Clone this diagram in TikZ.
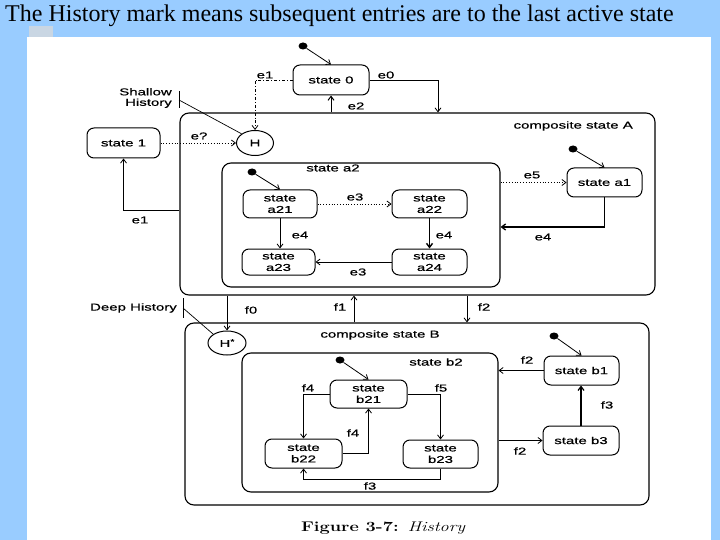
\documentclass[tikz,border=0pt]{standalone}
\usepackage{fontspec}
\usepackage{graphicx}
\usetikzlibrary{arrows.meta,shapes.geometric,calc}
\newfontfamily\dfont[FakeStretch=1.5,FakeBold=0.6]{Liberation Sans}
\newfontfamily\tfont{Liberation Serif}
\definecolor{bgblue}{HTML}{99CCFF}
\definecolor{tabgray}{HTML}{C9D6E3}
\begin{document}
\begin{tikzpicture}[x=1pt,y=-1pt,
 st/.style={draw, rounded corners=7pt, line width=1pt, font=\dfont\fontsize{10}{11.5}\selectfont, align=center, inner sep=0pt},
 comp/.style={draw, rounded corners=9pt, line width=1.1pt, inner sep=0pt},
 hist/.style={draw, ellipse, line width=1pt, inner sep=0pt, font=\dfont\fontsize{10}{11}\selectfont},
 lbl/.style={font=\dfont\fontsize{10}{11}\selectfont, inner sep=1pt},
 dot/.style={fill, ellipse, minimum width=9pt, minimum height=7pt, inner sep=0pt},
 ar/.style={-{Straight Barb[length=4pt,width=6pt]}, line width=0.8pt},
]
\useasboundingbox (0,0) rectangle (720,540);
\fill[bgblue] (0,0) rectangle (720,540);
\fill[tabgray] (29,26) rectangle (53,37);
\fill[white] (27,37) rectangle (711,540);
\node[anchor=base west, inner sep=0pt, font=\tfont\fontsize{24}{26}\selectfont] (title) at (5,22) {The History mark means subsequent entries are to the last active state};

% coordinates for bends
\coordinate (xe0) at (438,0);
\coordinate (ye1) at (0,210);
\coordinate (ye4) at (0,227);
\coordinate (xf1) at (354,0);
\coordinate (xf2) at (467,0);
\coordinate (yf3) at (0,479);

% composite states
\node[comp, minimum width=475pt, minimum height=182pt] (A) at (417.5,204) {};
\node[comp, minimum width=278pt, minimum height=124pt] (a2) at (361,225) {};
\node[comp, minimum width=464pt, minimum height=182pt] (B) at (417,414) {};
\node[comp, minimum width=256pt, minimum height=139pt] (b2) at (370,422.5) {};

% simple states
\node[st, minimum width=76pt, minimum height=30pt] (s0) at (331,80) {state 0};
\node[st, minimum width=73pt, minimum height=30pt] (s1) at (123.5,143) {state 1};
\node[hist, minimum width=37pt, minimum height=25pt] (H) at (255,143) {H};
\node[st, minimum width=74pt, minimum height=28pt] (a21) at (280,204) {state\\a21};
\node[st, minimum width=75pt, minimum height=28pt] (a22) at (429.5,204) {state\\a22};
\node[st, minimum width=73pt, minimum height=26pt] (a23) at (278.5,262) {state\\a23};
\node[st, minimum width=75pt, minimum height=26pt] (a24) at (429.5,262) {state\\a24};
\node[st, minimum width=75pt, minimum height=29pt] (a1) at (604.5,182.5) {state a1};
\node[hist, minimum width=38pt, minimum height=24pt] (HD) at (227,343) {H\raisebox{3pt}{\scriptsize *}};
\node[st, minimum width=77pt, minimum height=28pt] (b21) at (368.5,394) {state\\b21};
\node[st, minimum width=77pt, minimum height=29pt] (b22) at (303.5,453.5) {state\\b22};
\node[st, minimum width=75pt, minimum height=28pt] (b23) at (440.5,454) {state\\b23};
\node[st, minimum width=75pt, minimum height=29pt] (b1) at (581.5,370.5) {state b1};
\node[st, minimum width=76pt, minimum height=29pt] (b3) at (581,440.5) {state b3};

% initial dots
\node[dot] (i0) at (303,46) {};
\node[dot] (ia2) at (252,172) {};
\node[dot] (iA) at (573,149) {};
\node[dot] (ib2) at (340,360) {};
\node[dot] (iB) at (554,336) {};

% titles of composites
\node[lbl, anchor=east] (tA) at (634,126) {composite state A};
\node[lbl] (ta2) at (333,168) {state a2};
\node[lbl] (tB) at (380,335) {composite state B};
\node[lbl] (tb2) at (436,362) {state b2};

% history marks
\node[lbl, anchor=east, align=right, font=\dfont\fontsize{10}{10.5}\selectfont] (shl) at (173,98) {Shallow\\History};
\draw[line width=1pt] (179,91) coordinate (sb1) -- (179,108) coordinate (sb2);
\draw[line width=0.7pt] (179,100) coordinate (sbm) -- (H.north west);
\node[lbl, anchor=east] (dhl) at (178,308) {Deep History};
\draw[line width=1pt] (183,298) coordinate (db1) -- (183,318) coordinate (db2);
\draw[line width=0.7pt] (183,308) coordinate (dbm) -- (HD.north west);

% transitions
\draw[ar] (i0) -- (s0.north);
\draw[ar, dash dot] (s0.west) -| (H.north);
\node[lbl] (le1a) at (265,75) {e1};
\draw[ar] (s0.east) -| (xe0 |- A.north);
\node[lbl] (le0) at (386,75) {e0};
\draw[ar, line width=1pt] (A.north -| s0) -- (s0.south);
\node[lbl] (le2) at (356,106) {e2};
\draw[ar, dotted] (s1.east) -- (H.west);
\node[lbl] (le7) at (199,136) {e?};
\draw[ar] (A.west |- ye1) -| (s1.south);
\node[lbl] (le1b) at (140,220) {e1};

\draw[ar] (ia2) -- (a21.north);
\draw[ar, dotted] (a21.east) -- (a22.west);
\node[lbl] (le3a) at (355,197) {e3};
\draw[ar] (a21.south) -- (a21.south |- a23.north);
\node[lbl] (le4a) at (300,235) {e4};
\draw[ar, line width=1.4pt] (a22.south) -- (a22.south |- a24.north);
\node[lbl] (le4b) at (444,235) {e4};
\draw[ar] (a24.west) -- (a23.east);
\node[lbl] (le3b) at (358,272) {e3};

\draw[ar] (iA) -- (a1.north);
\draw[ar, dotted] (a2.east |- a1.west) -- (a1.west);
\node[lbl] (le5) at (532,175) {e5};
\draw[ar, line width=1.3pt] (a1.south) |- (a2.east |- ye4);
\node[lbl] (le4c) at (543,237) {e4};

\draw[ar] (A.south -| HD) -- (HD.north);
\node[lbl] (lf0) at (251,310) {f0};
\draw[ar] (B.north -| xf1) -- (A.south -| xf1);
\node[lbl] (lf1) at (340,307) {f1};
\draw[ar] (A.south -| xf2) -- (B.north -| xf2);
\node[lbl] (lf2a) at (484,307) {f2};

\draw[ar] (ib2) -- (b21.north);
\draw[ar] (b21.west) -| (b22.north);
\node[lbl] (lf4a) at (308,388) {f4};
\draw[ar] (b22.east) -| (b21.south);
\node[lbl] (lf4b) at (353,433) {f4};
\draw[ar] (b21.east) -| (b23.north);
\node[lbl] (lf5) at (441,388) {f5};
\draw[ar] (b23.south) -- (b23.south |- yf3) -| (b22.south);
\node[lbl] (lf3a) at (370,486) {f3};

\draw[ar] (iB) -- (b1.north);
\draw[ar] (b1.west) -- (b2.east |- b1.west);
\node[lbl] (lf2b) at (527,360) {f2};
\draw[ar, line width=1.2pt] (b3.north) -- (b3.north |- b1.south);
\node[lbl] (lf3b) at (607,405) {f3};
\draw[ar] (b2.east |- b3.west) -- (b3.west);
\node[lbl] (lf2c) at (520,451) {f2};

% caption
\node[inner sep=0pt] (cap) at (383,528) {\scalebox{1.3}[1]{\fontsize{14}{16}\selectfont\bfseries Figure 3-7: \mdseries\itshape History}};
\end{tikzpicture}
\end{document}
